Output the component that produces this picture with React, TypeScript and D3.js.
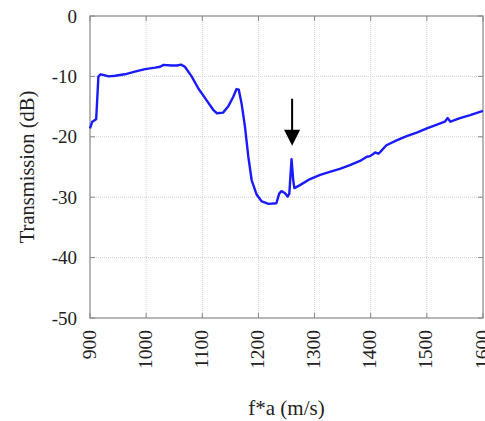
import React from "react";
import * as d3 from "d3";

const freqs = [900, 904, 911, 915, 919, 925, 933, 945, 962, 980, 998, 1016, 1025, 1031, 1045, 1055, 1062, 1069, 1081, 1093, 1105, 1120, 1126, 1137, 1146, 1155, 1161, 1165, 1170, 1176, 1182, 1188, 1197, 1206, 1218, 1232, 1237, 1241, 1247, 1252, 1255, 1259, 1262, 1264, 1274, 1292, 1310, 1327, 1345, 1363, 1381, 1393, 1399, 1408, 1414, 1420, 1428, 1446, 1464, 1482, 1500, 1518, 1532, 1537, 1542, 1559, 1577, 1600];
const transmission = [-18.6, -17.5, -17.1, -10.0, -9.65, -9.8, -10.0, -9.9, -9.65, -9.2, -8.8, -8.55, -8.4, -8.1, -8.2, -8.2, -8.05, -8.4, -10.0, -12.0, -13.6, -15.6, -16.1, -16.0, -15.0, -13.4, -12.1, -12.2, -14.5, -18.3, -23.3, -27.2, -29.6, -30.7, -31.1, -31.0, -29.4, -29.0, -29.3, -29.9, -29.4, -23.7, -27.2, -28.5, -28.0, -27.0, -26.3, -25.8, -25.3, -24.7, -24.0, -23.3, -23.2, -22.6, -22.8, -22.2, -21.4, -20.6, -19.9, -19.3, -18.6, -18.0, -17.5, -16.9, -17.5, -16.9, -16.4, -15.7];
const xTicks = [900, 1000, 1100, 1200, 1300, 1400, 1500, 1600];
const yTicks = [0, -10, -20, -30, -40, -50];
const arrowX = 1260;
const arrowTop = -13.7;
const arrowTip = -21.5;

const W = 485, H = 421;
const L = 90, R = 483, T = 16, B = 318;

export default function App() {
  const x = d3.scaleLinear().domain([900, 1600]).range([L, R]);
  const y = d3.scaleLinear().domain([-50, 0]).range([B, T]);
  const pts = freqs.map((f, i) => [f, transmission[i]] as [number, number]);
  const line = d3.line<[number, number]>().x(d => x(d[0])).y(d => y(d[1]))(pts) || "";
  const font = "'Liberation Serif', 'Times New Roman', serif";
  const ax = x(arrowX);
  const headTop = y(arrowTip) - 16;
  return (
    <svg width={W} height={H} style={{ position: "absolute", left: 0, top: 0, background: "#fff" }}>
      {xTicks.slice(1, -1).map(t => (
        <line key={"gx" + t} x1={x(t)} x2={x(t)} y1={T} y2={B} stroke="#d0d0d0" strokeWidth={1} strokeDasharray="1,1" />
      ))}
      {yTicks.slice(1, -1).map(t => (
        <line key={"gy" + t} x1={L} x2={R} y1={y(t)} y2={y(t)} stroke="#d0d0d0" strokeWidth={1} strokeDasharray="1,1" />
      ))}
      {xTicks.map(t => (
        <g key={"tx" + t}>
          <line x1={x(t)} x2={x(t)} y1={B} y2={B - 5} stroke="#888" />
          <line x1={x(t)} x2={x(t)} y1={T} y2={T + 5} stroke="#888" />
        </g>
      ))}
      {yTicks.map(t => (
        <g key={"ty" + t}>
          <line x1={L} x2={L + 5} y1={y(t)} y2={y(t)} stroke="#888" />
          <line x1={R} x2={R - 5} y1={y(t)} y2={y(t)} stroke="#888" />
        </g>
      ))}
      <rect x={L} y={T} width={R - L} height={B - T} fill="none" stroke="#888" strokeWidth={1.2} />
      <path d={line} fill="none" stroke="#1a1aff" strokeWidth={2.4} strokeLinejoin="round" />
      <line x1={ax} x2={ax} y1={y(arrowTop)} y2={headTop + 1} stroke="#000" strokeWidth={2} />
      <path d={`M${ax - 8},${headTop} L${ax + 8},${headTop} L${ax},${y(arrowTip)} Z`} fill="#000" />
      {yTicks.map(t => (
        <text key={"ly" + t} x={77} y={y(t)} textAnchor="end" dominantBaseline="central" fontFamily={font} fontSize={19} fill="#222">
          {String(t)}
        </text>
      ))}
      {xTicks.map(t => (
        <text key={"lx" + t} transform={`translate(${x(t) - 1},${330}) rotate(-90)`} textAnchor="end" dominantBaseline="central" fontFamily={font} fontSize={19.5} fill="#222">
          {t}
        </text>
      ))}
      <text transform={`translate(27,${(T + B) / 2}) rotate(-90)`} textAnchor="middle" dominantBaseline="central" fontFamily={font} fontSize={20.5} fill="#222">
        Transmission (dB)
      </text>
      <text x={(L + R) / 2} y={408} textAnchor="middle" dominantBaseline="central" fontFamily={font} fontSize={21} fill="#222">
        f*a (m/s)
      </text>
    </svg>
  );
}
